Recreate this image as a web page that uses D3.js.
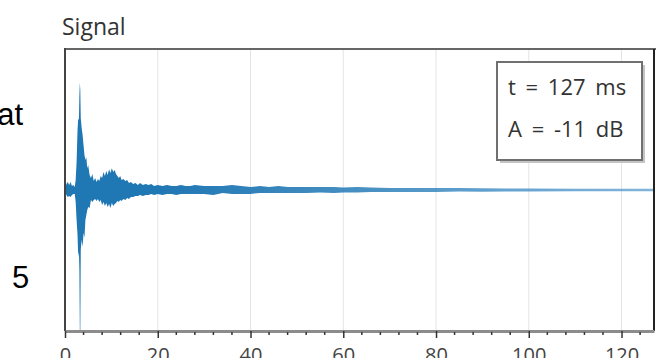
<!DOCTYPE html>
<html>
<head>
<meta charset="utf-8">
<script src="https://cdn.jsdelivr.net/npm/d3@7"></script>
<style>
  body { margin: 0; background: #fff; }
  svg { display: block; }
  .side { font-family: "Liberation Sans", Arial, sans-serif; font-size: 31px; fill: #000; }
  .title { font-family: "Open Sans", sans-serif; font-size: 23px; fill: #333; }
  .axis-x text { font-family: "Open Sans", sans-serif; font-size: 20px; fill: #444; }
  .readout text { font-family: "Open Sans", sans-serif; font-size: 22px; fill: #333; word-spacing: 4px; }
</style>
</head>
<body>
<svg width="656" height="358"></svg>
<script>
// time in ms, envelope of the recorded signal (normalised amplitude)
var times = [0, 0.3, 0.6, 0.9, 1.2, 1.5, 1.8, 2.1,
    2.3, 2.5, 2.7, 2.85, 3.0, 3.1, 3.2, 3.3, 3.4,
    3.6, 3.8, 4.0, 4.2, 4.4, 4.6, 4.8, 5.0,
    5.3, 5.6, 5.9, 6.2, 6.5, 6.8, 7.1, 7.4, 7.7, 8.0,
    8.3, 8.6, 8.9, 9.2, 9.5, 9.8, 10.1, 10.4, 10.7, 11.0,
    11.3, 11.6, 11.9, 12.2, 12.6, 13.0, 13.4, 13.8, 14.2, 14.7,
    15.2, 15.7, 16.2, 16.8, 17.4, 18.0, 18.6, 19.2, 20,
    21, 22, 23, 24, 25, 26, 27, 28,
    30, 32, 34, 36, 38, 40, 42, 44, 46, 48, 50, 52,
    55, 58, 60, 63, 66, 70, 75, 80, 85, 90, 95, 100, 110, 120, 127];

var sigHigh = [.014, .042, .057, .035, .057, .028, .035, .021,
    .071, .198, .424, .509, .495, .671, .763, .707, .509,
    .438, .389, .318, .247, .212, .233, .155, .177,
    .106, .085, .113, .064, .085, .057, .078, .064, .099, .085,
    .127, .099, .134, .106, .148, .120, .155, .127, .141, .113,
    .099, .085, .099, .071, .078, .064, .071, .049, .057, .042,
    .049, .035, .049, .035, .042, .035, .042, .028, .035,
    .028, .035, .028, .028, .035, .028, .028, .035,
    .028, .028, .028, .035, .028, .021, .028, .021, .028, .021, .021, .021,
    .021, .021, .018, .021, .018, .014, .014, .014, .014, .013, .011, .011, .009, .008, .008];

var sigLow = [-.014, -.035, -.049, -.042, -.049, -.035, -.028, -.028,
    -.085, -.212, -.318, -.473, -.438, -.565, -1.0, -1.0, -.424,
    -.353, -.403, -.304, -.339, -.212, -.177, -.141, -.120,
    -.127, -.071, -.085, -.071, -.064, -.078, -.064, -.085, -.071, -.106,
    -.085, -.113, -.092, -.120, -.099, -.127, -.092, -.113, -.099, -.092,
    -.078, -.085, -.071, -.078, -.064, -.071, -.057, -.064, -.049, -.049,
    -.042, -.042, -.035, -.042, -.035, -.035, -.028, -.035, -.028,
    -.035, -.028, -.028, -.035, -.028, -.028, -.028, -.028,
    -.028, -.035, -.021, -.028, -.028, -.028, -.021, -.021, -.021, -.021, -.021, -.021,
    -.018, -.021, -.018, -.018, -.014, -.014, -.014, -.014, -.011, -.013, -.011, -.011, -.009, -.008, -.008];

var xTicks = [0, 20, 40, 60, 80, 100, 120];
var minorStep = 4;
var xMax = 127;
var readout = ["t = 127 ms", "A = -11 dB"];

var svg = d3.select("svg");
var margin = { top: 49, right: 2, bottom: 27, left: 65 };
var width = +svg.attr("width") - margin.left - margin.right;
var height = +svg.attr("height") - margin.top - margin.bottom;

var x = d3.scaleLinear().domain([0, xMax]).range([0, width]);
var y = d3.scaleLinear().domain([-1, 1]).range([height, 0]);

// cut-off labels of the neighbouring panel
svg.append("text").attr("class", "side").attr("x", 23).attr("y", 125).attr("text-anchor", "end").text("at");
svg.append("text").attr("class", "side").attr("x", 12).attr("y", 288).text("5");

svg.append("text").attr("class", "title").attr("x", 62).attr("y", 35).text("Signal");

var g = svg.append("g").attr("transform", "translate(" + margin.left + "," + margin.top + ")");

var defs = svg.append("defs");
defs.append("clipPath").attr("id", "plot-clip")
    .append("rect").attr("width", width).attr("height", height);

var grad = defs.append("linearGradient").attr("id", "fade")
    .attr("gradientUnits", "userSpaceOnUse")
    .attr("x1", x(20)).attr("x2", x(xMax)).attr("y1", 0).attr("y2", 0);
grad.append("stop").attr("offset", 0).attr("stop-color", "#1f77b4").attr("stop-opacity", 1);
grad.append("stop").attr("offset", 0.35).attr("stop-color", "#1f77b4").attr("stop-opacity", 0.85);
grad.append("stop").attr("offset", 1).attr("stop-color", "#3d8cc8").attr("stop-opacity", 0.65);

g.selectAll(".grid")
    .data(xTicks.slice(1))
    .enter().append("line")
    .attr("class", "grid")
    .attr("x1", function (d) { return x(d); })
    .attr("x2", function (d) { return x(d); })
    .attr("y1", 0).attr("y2", height)
    .attr("stroke", "#e4e4e4").attr("stroke-width", 1);

var envelope = times.map(function (t, i) { return { t: t, hi: sigHigh[i], lo: sigLow[i] }; });

var area = d3.area()
    .x(function (d) { return x(d.t); })
    .y0(function (d) { return y(d.lo); })
    .y1(function (d) { return y(d.hi); });

g.append("path")
    .datum(envelope)
    .attr("clip-path", "url(#plot-clip)")
    .attr("fill", "url(#fade)")
    .attr("d", area);

// frame
g.append("line").attr("x1", 0).attr("x2", width + 2).attr("y1", 0).attr("y2", 0)
    .attr("stroke", "#666").attr("stroke-width", 2);
g.append("line").attr("x1", 0).attr("x2", 0).attr("y1", -1).attr("y2", height)
    .attr("stroke", "#444").attr("stroke-width", 2);
g.append("line").attr("x1", width).attr("x2", width).attr("y1", 0).attr("y2", height)
    .attr("stroke", "#222").attr("stroke-width", 2);

var xAxis = d3.axisBottom(x)
    .tickValues(xTicks)
    .tickSizeInner(7)
    .tickSizeOuter(0)
    .tickPadding(10);

var axisG = g.append("g")
    .attr("class", "axis-x")
    .attr("transform", "translate(0," + height + ")")
    .call(xAxis);
axisG.select(".domain").attr("stroke", "#8c8c8c").attr("stroke-width", 3);
axisG.selectAll(".tick line").attr("stroke", "#333").attr("stroke-width", 1.5);

axisG.selectAll(".minor")
    .data(d3.range(0, xMax, minorStep).filter(function (d) { return xTicks.indexOf(d) < 0; }))
    .enter().append("line")
    .attr("class", "minor")
    .attr("x1", function (d) { return x(d); })
    .attr("x2", function (d) { return x(d); })
    .attr("y1", 1).attr("y2", 4)
    .attr("stroke", "#333").attr("stroke-width", 1.5);

// readout box
var box = svg.append("g").attr("class", "readout");
box.append("rect").attr("x", 500).attr("y", 65).attr("width", 145).attr("height", 98)
    .attr("fill", "#c4c4c4");
box.append("rect").attr("x", 497).attr("y", 62).attr("width", 145).attr("height", 98)
    .attr("fill", "#fff").attr("stroke", "#707070").attr("stroke-width", 2);
box.selectAll("text")
    .data(readout)
    .enter().append("text")
    .attr("x", 508)
    .attr("y", function (d, i) { return 95 + i * 42; })
    .text(function (d) { return d; });
</script>
</body>
</html>
